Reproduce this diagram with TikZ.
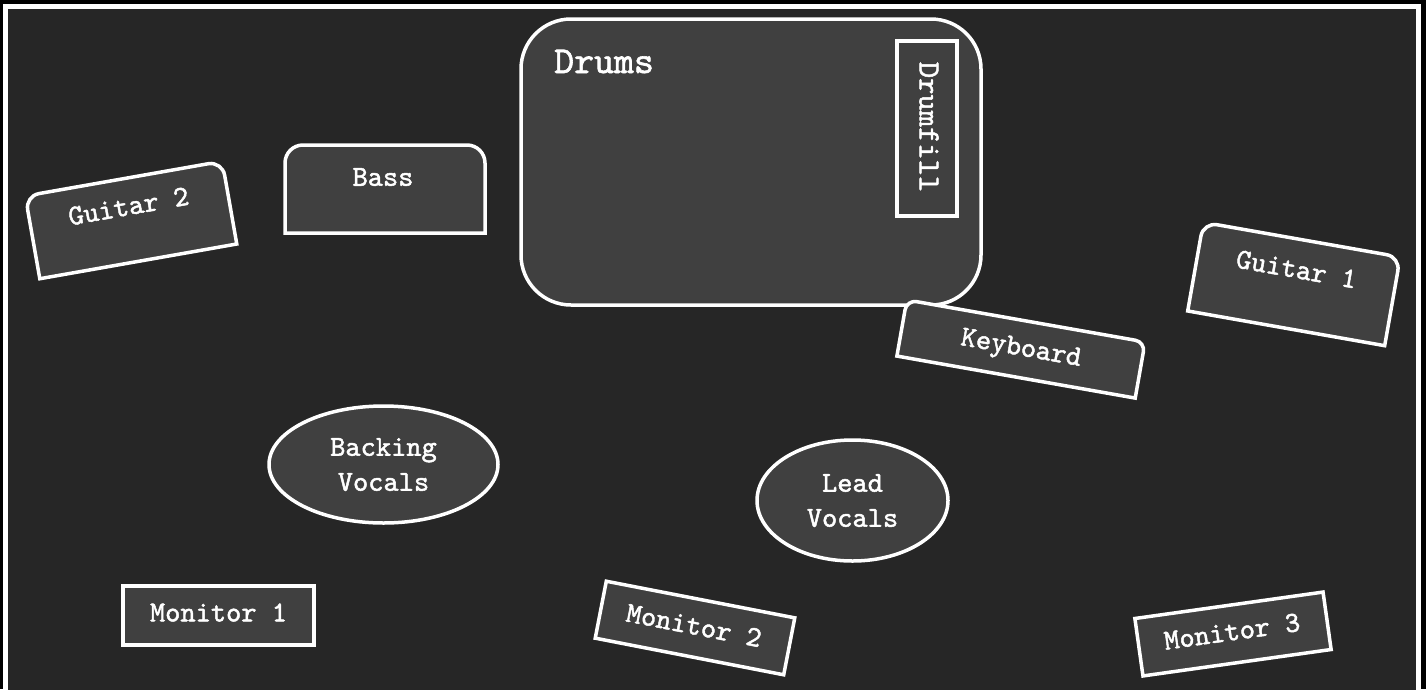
\documentclass[tikz,border=0pt]{standalone}
\usepackage{fontspec}
\newfontfamily\typew{lmmono10-regular.otf}[FakeBold=1.6]
\usetikzlibrary{shapes.geometric}
\definecolor{bgdark}{HTML}{262626}
\definecolor{boxfill}{HTML}{404040}
\newcommand{\lblfont}{\typew\fontsize{29}{35}\selectfont}
\tikzset{
  box/.style={draw=white, line width=3.5pt, fill=boxfill},
  txt/.style={text=white, font=\lblfont, align=center, inner sep=0pt},
}
\begin{document}
\begin{tikzpicture}[x=1pt,y=-1pt]
\useasboundingbox (0,0) rectangle (1426,689);
\fill[black] (0,0) rectangle (1426,689);
\draw[white, line width=5pt, fill=bgdark] (5.5,6) rectangle (1418.5,720);

% Drums
\draw[box, rounded corners=50pt] (521,19) rectangle (981,305);
\node[txt, font=\typew\fontsize{38}{42}\selectfont, anchor=base west] (drums) at (554,73) {Drums};
\node[box, minimum width=60pt, minimum height=175pt, inner sep=0pt] (drumfillbox) at (927,128.5) {};
\node[txt, font=\typew\fontsize{31}{34}\selectfont, rotate=-90] (drumfill) at (929,127) {Drumfill};

% Bass
\begin{scope}[shift={(385,189)}]
\draw[box] (-100,44) -- (-100,-26) arc[start angle=180,end angle=270,radius=18] -- (82,-44) arc[start angle=270,end angle=360,radius=18] -- (100,44) -- cycle;
\node[txt] (bass) at (-2,-12) {Bass};
\end{scope}

% Guitar 2
\begin{scope}[shift={(131,220)}, rotate=10, transform shape]
\draw[box] (-100,42) -- (-100,-28) arc[start angle=180,end angle=270,radius=14] -- (86,-42) arc[start angle=270,end angle=360,radius=14] -- (100,42) -- cycle;
\node[txt] (guitar2) at (0,-14) {Guitar 2};
\end{scope}

% Guitar 1
\begin{scope}[shift={(1294,284)}, rotate=-10, transform shape]
\draw[box] (-100,45) -- (-100,-31) arc[start angle=180,end angle=270,radius=14] -- (86,-45) arc[start angle=270,end angle=360,radius=14] -- (100,45) -- cycle;
\node[txt] (guitar1) at (0,-15) {Guitar 1};
\end{scope}

% Keyboard
\begin{scope}[shift={(1021,349)}, rotate=-10, transform shape]
\draw[box] (-121,28.5) -- (-121,-18.5) arc[start angle=180,end angle=270,radius=10] -- (111,-28.5) arc[start angle=270,end angle=360,radius=10] -- (121,28.5) -- cycle;
\node[txt] (keyboard) at (0,1) {Keyboard};
\end{scope}

% Vocals
\node[box, txt, ellipse, inner sep=0pt, minimum width=229pt, minimum height=117pt] (backing) at (383.5,464.5) {Backing\\Vocals};
\node[box, txt, ellipse, inner sep=0pt, minimum width=191pt, minimum height=121pt] (lead) at (852.5,500.5) {Lead\\Vocals};

% Monitors
\node[box, minimum width=191pt, minimum height=59pt] (mon1box) at (218.5,615.5) {};
\node[txt] (mon1) at (218.5,612.5) {Monitor 1};
\node[box, minimum width=192pt, minimum height=58pt, rotate=-11] (mon2box) at (695,628) {};
\node[txt, rotate=-11] (mon2) at (694,625.5) {Monitor 2};
\node[box, minimum width=190pt, minimum height=58pt, rotate=8] (mon3box) at (1233,634) {};
\node[txt, rotate=8] (mon3) at (1232,631.5) {Monitor 3};
\end{tikzpicture}
\end{document}
